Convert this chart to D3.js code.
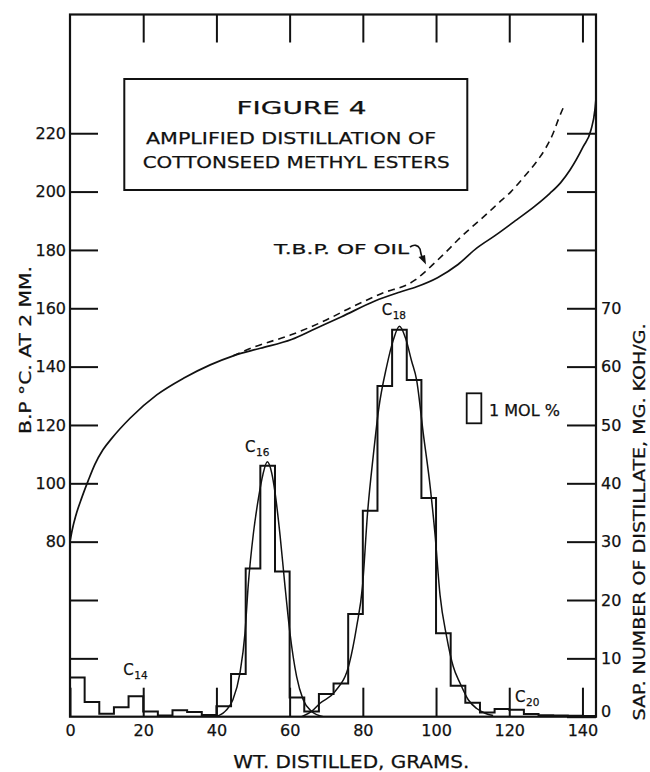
<!DOCTYPE html>
<html>
<head>
<meta charset="utf-8">
<script src="https://cdn.jsdelivr.net/npm/d3@7"></script>
<style>
  body { margin: 0; background: #fff; }
  text { font-family: "DejaVu Sans", sans-serif; fill: #111; stroke: #111; stroke-width: 0.25; }
</style>
</head>
<body>
<div id="chart"></div>
<script>
// ---------- data ----------

// axis ticks
const xTicks = [0, 20, 40, 60, 80, 100, 120, 140];
const bpTicks = [40, 60, 80, 100, 120, 140, 160, 180, 200, 220];
const sapTicks = [0, 10, 20, 30, 40, 50, 60, 70, 80, 90, 100];

// histogram: 4 g cuts, sap. number of each cut
const binStart = [0, 4, 8, 12, 16, 20, 24, 28, 32, 36, 40, 44, 48, 52, 56, 60, 64, 68,
  72, 76, 80, 84, 88, 92, 96, 100, 104, 108, 112, 116, 120, 124, 128, 132, 136, 140];
const binSap = [6.7, 2.5, 0.5, 1.6, 3.5, 0.9, 0.2, 1.1, 0.8, 0.3, 1.8, 7.3, 25.4, 43.0,
  24.9, 3.3, 0.9, 3.9, 5.7, 17.6, 35.3, 56.7, 66.3, 57.7, 37.5, 14.3, 5.3, 2.4, 0.7,
  1.3, 1.2, 0.45, 0.25, 0.2, 0.15, 0.1];

// smooth peak curves (grams, sap. number)
const c16Curve = [[40.0, 0], [42.8, 1.2], [44.5, 2.9], [46.4, 7.4], [47.8, 14.3], [48.7, 22.6],
  [50.1, 31.4], [51.5, 37.5], [52.7, 41.5], [53.9, 43.7], [55.1, 41.8], [56.0, 38.5],
  [57.4, 31.0], [58.7, 22.6], [60.1, 14.3], [61.9, 6.9], [63.7, 2.9], [66.0, 0.9], [69.2, 0]];
const c18Curve = [[63.3, 0], [66.0, 0.9], [68.3, 2.3], [72.4, 4.3], [76.3, 9.1], [78.3, 15.4],
  [79.9, 22.3], [81.3, 35.0], [82.9, 45.0], [84.3, 52.6], [86.5, 60.0], [88.3, 64.5],
  [90.0, 66.9], [91.7, 64.8], [93.3, 61.0], [94.7, 57.7], [96.5, 48.6], [98.4, 39.4],
  [99.7, 31.4], [101.1, 20.8], [102.9, 13.7], [104.7, 8.6], [106.6, 5.7], [108.8, 2.9],
  [111.1, 1.4], [113.4, 0.6], [115.6, 0.2]];

// boiling point of distillate (grams, deg C)
const bpCurve = [[0, 80], [0.6, 84], [1.6, 89], [3.2, 95], [5, 101], [6.8, 106.5], [9, 111.5],
  [11.4, 115.4], [16.4, 122.3], [23.7, 130.3], [31, 136], [38.3, 140.6], [44.6, 143.7],
  [52, 146.3], [60.5, 149.3], [67, 153], [74.2, 157.1], [83.3, 162.5], [90, 165.5],
  [94.7, 167.4], [100.4, 170.5], [106, 175], [111.1, 180.6], [116, 184.8], [122, 190.3],
  [127, 195], [131.1, 199.4], [134, 203], [136.6, 207.4], [140.2, 215.4], [142.3, 221],
  [143.4, 228], [143.7, 232]];

// true boiling point of the oil (dashed)
const tbpCurve = [[44.6, 143.7], [50, 146.6], [60.2, 150.8], [70, 156], [77.3, 160.6],
  [85, 165], [94.3, 169.7], [97, 172.5], [100, 176], [103.3, 180], [106, 183.5],
  [109.5, 187.5], [114, 192.5], [117, 196], [120.5, 200], [124, 205], [127.3, 210],
  [130, 215], [132, 220], [133.5, 225], [135.2, 230]];

// ---------- layout ----------
const W = 650, H = 772;
const frame = { left: 70, right: 596, top: 14.5, bottom: 716.7 };

const x = d3.scaleLinear().domain([0, 143.7]).range([frame.left, frame.right]);
const yBP = d3.scaleLinear().domain([20, 260.7]).range([frame.bottom, frame.top]);
const ySap = d3.scaleLinear().domain([0, 120.35]).range([frame.bottom, frame.top]);

const svg = d3.select("#chart").append("svg")
  .attr("width", W).attr("height", H)
  .attr("viewBox", `0 0 ${W} ${H}`);

svg.append("defs").append("clipPath").attr("id", "plot-clip")
  .append("rect")
  .attr("x", frame.left).attr("y", frame.top)
  .attr("width", frame.right - frame.left)
  .attr("height", frame.bottom - frame.top);

// ---------- axes (ticks point inward) ----------
function styleAxis(g, size) {
  g.select(".domain").remove();
  g.selectAll(".tick line").attr("stroke", "#111").attr("stroke-width", 2);
  g.selectAll(".tick text").attr("font-size", size).attr("fill", "#111")
    .attr("font-family", "DejaVu Sans, sans-serif");
}

svg.append("g")
  .attr("transform", `translate(0,${frame.bottom})`)
  .call(d3.axisBottom(x).tickValues(xTicks).tickSize(-29).tickPadding(8)
    .tickFormat(d3.format("d")))
  .call(styleAxis, 16);

svg.append("g")
  .attr("transform", `translate(0,${frame.top})`)
  .call(d3.axisTop(x).tickValues(xTicks.slice(1)).tickSize(-28).tickFormat(""))
  .call(styleAxis, 16);

svg.append("g")
  .attr("transform", `translate(${frame.left},0)`)
  .call(d3.axisLeft(yBP).tickValues(bpTicks).tickSize(-28).tickPadding(4)
    .tickFormat((d) => (d >= 80 ? d : "")))
  .call(styleAxis, 16);

const rightAxis = svg.append("g")
  .attr("transform", `translate(${frame.right},0)`)
  .call(d3.axisRight(ySap).tickValues(sapTicks).tickSize(-29).tickPadding(5)
    .tickFormat((d) => (d <= 70 ? d : "")))
  .call(styleAxis, 16);
// the zero label sits a little above the base line
rightAxis.selectAll(".tick text").filter((d) => d === 0).attr("y", -5);

// frame
svg.append("rect")
  .attr("x", frame.left).attr("y", frame.top)
  .attr("width", frame.right - frame.left)
  .attr("height", frame.bottom - frame.top)
  .attr("fill", "none").attr("stroke", "#111").attr("stroke-width", 2.2);

// ---------- marks ----------
const plot = svg.append("g").attr("clip-path", "url(#plot-clip)");

// histogram outline
const histPts = binStart.map((g, i) => [g, binSap[i]]);
histPts.push([143.7, binSap[binSap.length - 1]]);
plot.append("path")
  .datum(histPts)
  .attr("fill", "none").attr("stroke", "#111").attr("stroke-width", 2)
  .attr("d", d3.line().x((d) => x(d[0])).y((d) => ySap(d[1])).curve(d3.curveStepAfter));

const sapLine = d3.line().x((d) => x(d[0])).y((d) => ySap(d[1])).curve(d3.curveMonotoneX);
[c16Curve, c18Curve].forEach((c) => {
  plot.append("path").datum(c)
    .attr("fill", "none").attr("stroke", "#111").attr("stroke-width", 1.5)
    .attr("d", sapLine);
});

const bpLine = d3.line().x((d) => x(d[0])).y((d) => yBP(d[1])).curve(d3.curveMonotoneX);
plot.append("path").datum(bpCurve)
  .attr("fill", "none").attr("stroke", "#111").attr("stroke-width", 1.7)
  .attr("d", bpLine);
plot.append("path").datum(tbpCurve)
  .attr("fill", "none").attr("stroke", "#111").attr("stroke-width", 1.6)
  .attr("stroke-dasharray", "7,5")
  .attr("d", bpLine);

// ---------- title box ----------
svg.append("rect")
  .attr("x", 124.3).attr("y", 79).attr("width", 343).attr("height", 111)
  .attr("fill", "none").attr("stroke", "#111").attr("stroke-width", 2);

svg.append("text").attr("x", 236.5).attr("y", 113.5)
  .attr("font-size", 18.5).attr("textLength", 130).attr("lengthAdjust", "spacingAndGlyphs")
  .text("FIGURE  4");
svg.append("text").attr("x", 146).attr("y", 144)
  .attr("font-size", 16.5).attr("textLength", 290).attr("lengthAdjust", "spacingAndGlyphs")
  .text("AMPLIFIED DISTILLATION OF");
svg.append("text").attr("x", 142.7).attr("y", 168.3)
  .attr("font-size", 16.5).attr("textLength", 307).attr("lengthAdjust", "spacingAndGlyphs")
  .text("COTTONSEED METHYL ESTERS");

// ---------- annotations ----------
svg.append("text").attr("x", 274).attr("y", 253.5)
  .attr("font-size", 14).attr("textLength", 135).attr("lengthAdjust", "spacingAndGlyphs")
  .text("T.B.P. OF OIL");
svg.append("path")
  .attr("d", "M410,247 C414,244 418,245 420,249 C421,253 421,256 423,259")
  .attr("fill", "none").attr("stroke", "#111").attr("stroke-width", 1.6);
svg.append("path")
  .attr("d", "M418.5,257 L426,264.5 L425,255 Z")
  .attr("fill", "#111");

function chainLabel(xPos, yPos, sub) {
  const t = svg.append("text").attr("x", xPos).attr("y", yPos).attr("font-size", 15);
  t.append("tspan").text("C");
  t.append("tspan").attr("font-size", 10.5).attr("dy", 4).attr("dx", 0.5).text(sub);
}
chainLabel(123.3, 675, "14");
chainLabel(245, 452, "16");
chainLabel(381.7, 315, "18");
chainLabel(515, 702, "20");

// 1 mol % key: one 4 g cut wide
svg.append("rect")
  .attr("x", 466.7).attr("y", 393.3)
  .attr("width", x(4) - x(0)).attr("height", 30)
  .attr("fill", "none").attr("stroke", "#111").attr("stroke-width", 1.8);
svg.append("text").attr("x", 489).attr("y", 415.7)
  .attr("font-size", 15).attr("textLength", 71).attr("lengthAdjust", "spacingAndGlyphs")
  .text("1 MOL %");

// ---------- axis titles ----------
svg.append("text").attr("x", 233.3).attr("y", 768)
  .attr("font-size", 17).attr("textLength", 236).attr("lengthAdjust", "spacingAndGlyphs")
  .text("WT. DISTILLED, GRAMS.");

svg.append("text")
  .attr("transform", "translate(31,350) rotate(-90)")
  .attr("text-anchor", "middle")
  .attr("font-size", 16).attr("textLength", 168).attr("lengthAdjust", "spacingAndGlyphs")
  .text("B.P °C. AT 2 MM.");

svg.append("text")
  .attr("transform", "translate(645,522) rotate(-90)")
  .attr("text-anchor", "middle")
  .attr("font-size", 15.5).attr("textLength", 397).attr("lengthAdjust", "spacingAndGlyphs")
  .text("SAP. NUMBER OF DISTILLATE, MG. KOH/G.");
</script>
</body>
</html>
